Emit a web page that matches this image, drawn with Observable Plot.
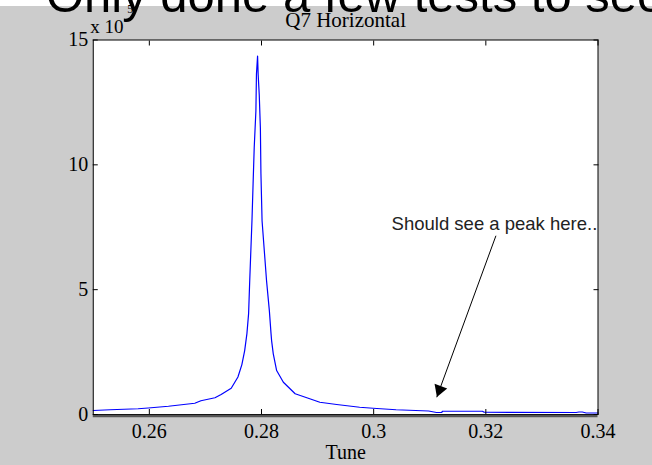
<!DOCTYPE html>
<html>
<head>
<meta charset="utf-8">
<script src="https://cdn.jsdelivr.net/npm/d3@7"></script>
<script src="https://cdn.jsdelivr.net/npm/@observablehq/plot@0.6"></script>
<style>
  html, body { margin: 0; padding: 0; background: white; }
  #wrap { position: relative; width: 652px; height: 465px; overflow: hidden; background: white; }
  #strip { height: 6px; background: white; }
  #big { position: absolute; left: 46px; top: -30px; font-family: "Liberation Sans", Arial, sans-serif; font-size: 49px; line-height: 50px; white-space: nowrap; color: black; }
</style>
</head>
<body>
<div id="wrap">
  <div id="strip"></div>
  <div id="chart"></div>
  <div id="big">Only done a few tests to see</div>
</div>
<script>
// Tune values (x) and amplitude in units of 10^5 (y)
const tune = [0.2500, 0.2530, 0.2580, 0.2598, 0.2634, 0.2681, 0.2692, 0.2717, 0.2728, 0.2746,
  0.2758, 0.2765, 0.2770, 0.2774, 0.2777, 0.2779, 0.2781, 0.2783, 0.2785, 0.2787,
  0.2790, 0.2791, 0.2793, 0.2794, 0.2796, 0.2798, 0.2799, 0.2801, 0.2805, 0.2809,
  0.2814, 0.2817, 0.2818, 0.2821, 0.2827, 0.2839, 0.2860, 0.2886, 0.2904, 0.2934,
  0.2975, 0.2999, 0.3040, 0.3098, 0.3112, 0.3121, 0.3123, 0.3194, 0.3197, 0.3361,
  0.3366, 0.3372, 0.3379, 0.3400];
const amp = [0.16, 0.19, 0.23, 0.26, 0.33, 0.45, 0.55, 0.67, 0.80, 1.05,
  1.50, 2.00, 2.56, 3.24, 4.04, 5.36, 6.56, 7.76, 9.24, 10.68,
  12.16, 13.64, 14.36, 13.64, 12.80, 11.48, 9.64, 7.76, 6.56, 5.36,
  4.16, 3.24, 2.96, 2.43, 1.76, 1.29, 0.83, 0.63, 0.49, 0.40,
  0.29, 0.25, 0.19, 0.14, 0.08, 0.08, 0.13, 0.13, 0.09, 0.08,
  0.10, 0.10, 0.06, 0.06];

const xTicks = [0.26, 0.28, 0.30, 0.32, 0.34];
const xTickLabels = ["0.26", "0.28", "0.3", "0.32", "0.34"];
const yTicks = [0, 5, 10, 15];
const yTickLabels = ["0", "5", "10", "15"];

const titleText = "Q7 Horizontal";
const xLabelText = "Tune";
const expBase = "x 10";
const expPower = "5";
const noteText = "Should see a peak here..";
const arrowStart = {x: 0.3218, y: 7.16};
const arrowTip = {x: 0.31125, y: 0.69};
const notePos = {x: 0.3032, y: 7.62};

const data = tune.map((t, i) => ({tune: t, amp: amp[i]}));
const xFmt = d => xTickLabels[xTicks.findIndex(t => Math.abs(t - d) < 1e-9)];
const yFmt = d => yTickLabels[yTicks.indexOf(d)];

const chart = Plot.plot({
  width: 652,
  height: 459,
  marginTop: 33.5,
  marginRight: 54.5,
  marginBottom: 51,
  marginLeft: 92.75,
  style: {background: "#cccccc", fontFamily: "'Liberation Serif', 'DejaVu Serif', serif", fontSize: "20px", color: "black", overflow: "visible"},
  x: {domain: [0.25, 0.34], label: null},
  y: {domain: [0, 15], label: null},
  marks: [
    Plot.frame({fill: "white", stroke: "none"}),
    Plot.line(data, {x: "tune", y: "amp", stroke: "#0000ff", strokeWidth: 1.2}),
    Plot.frame({stroke: "black", strokeWidth: 1}),
    Plot.ruleY([0], {stroke: "#555", strokeWidth: 2.5, dy: 1.5}),
    // inward ticks
    Plot.axisX({anchor: "bottom", ticks: xTicks, tickSize: -5, fill: "none", label: null}),
    Plot.axisX({anchor: "top", ticks: xTicks, tickSize: -5, fill: "none", label: null}),
    Plot.axisY({anchor: "left", ticks: yTicks, tickSize: -5, fill: "none", label: null}),
    Plot.axisY({anchor: "right", ticks: yTicks, tickSize: -5, fill: "none", label: null}),
    // tick labels
    Plot.axisX({anchor: "bottom", ticks: xTicks, tickSize: 0, tickPadding: 9, tickFormat: xFmt, label: null}),
    Plot.axisY({anchor: "left", ticks: yTicks, tickSize: 0, tickPadding: 5, tickFormat: yFmt, label: null}),
    // titles
    Plot.text([titleText], {frameAnchor: "top", lineAnchor: "middle", dy: -20, fontSize: 21}),
    Plot.text([xLabelText], {frameAnchor: "bottom", lineAnchor: "middle", dy: 38, fontSize: 20}),
    Plot.text([expBase], {frameAnchor: "top-left", textAnchor: "start", lineAnchor: "bottom", dx: -3, dy: -7, fontSize: 19}),
    Plot.text([expPower], {frameAnchor: "top-left", textAnchor: "start", lineAnchor: "bottom", dx: 34, dy: -27, fontSize: 12}),
    // annotation
    Plot.link([0], {x1: () => arrowStart.x, y1: () => arrowStart.y, x2: () => arrowTip.x, y2: () => arrowTip.y, stroke: "black", strokeWidth: 1}),
    Plot.dot([0], {x: () => arrowTip.x, y: () => arrowTip.y, symbol: "triangle", r: 5, rotate: 200, fill: "black", stroke: "none", dx: 2.8, dy: -7.5}),
    Plot.text([noteText], {x: () => notePos.x, y: () => notePos.y, textAnchor: "start", fontFamily: "'Liberation Sans', Arial, sans-serif", fontSize: 18.5, fill: "#222"})
  ]
});
document.getElementById("chart").appendChild(chart);
</script>
</body>
</html>
